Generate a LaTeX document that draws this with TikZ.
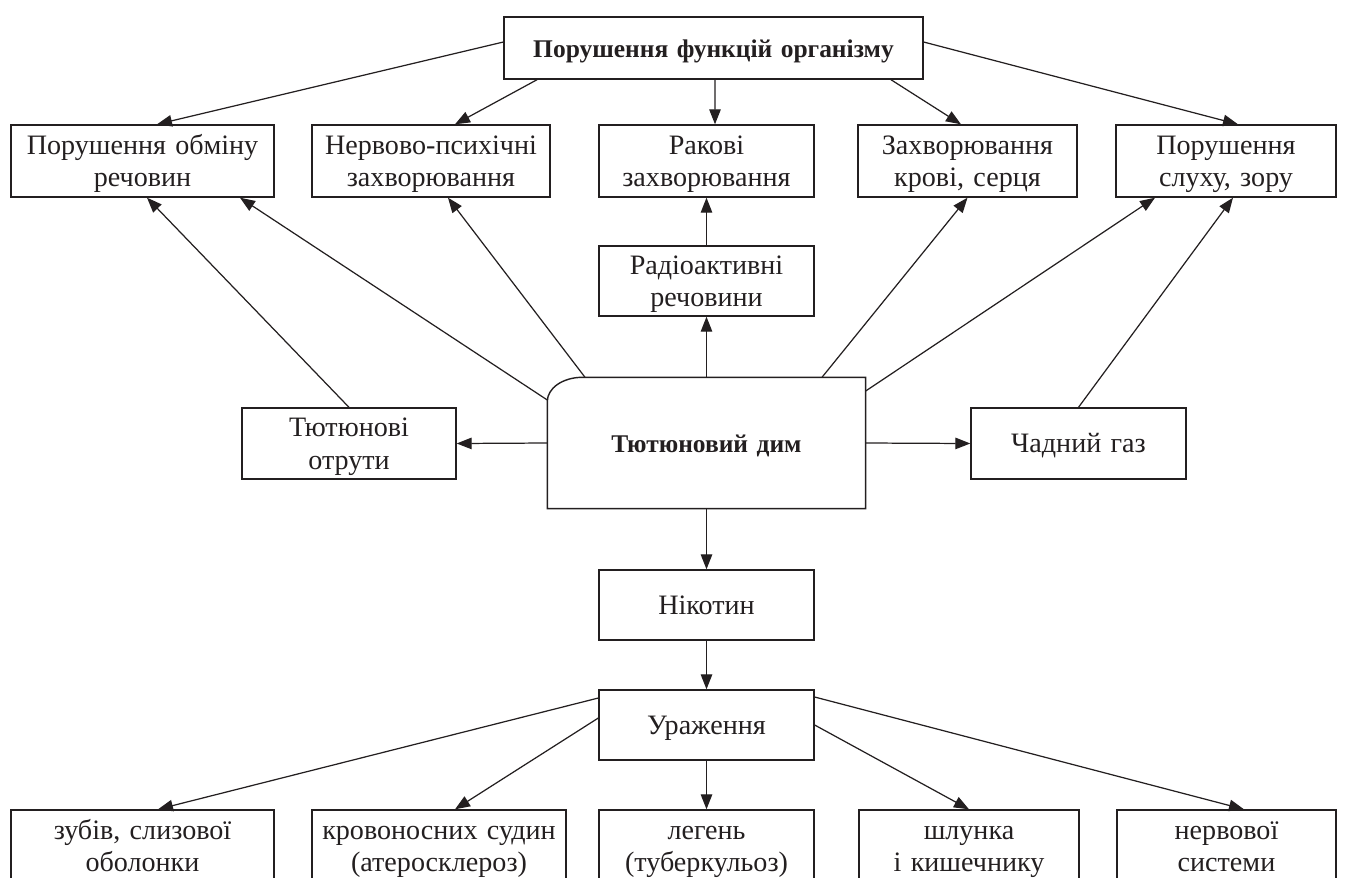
\documentclass[tikz,border=0pt]{standalone}
\usepackage{fontspec}
\setmainfont{Liberation Serif}
\usepackage{tikz}
\usetikzlibrary{arrows.meta}
\definecolor{ink}{HTML}{231F20}
\newcommand{\boxstrut}{\rule[-3.85pt]{0pt}{18.5pt}}
\tikzstyle{edge}=[draw=ink, line width=0.7pt, -{Triangle[length=3mm, width=2.3mm]}]
\tikzstyle{box}=[rectangle, draw=ink, line width=0.8pt, align=center, inner sep=0pt, text=ink, font=\fontsize{16}{18.5}\selectfont, minimum height=1.42cm, execute at begin node=\boxstrut, execute at end node=\boxstrut]
\tikzstyle{bigbox}=[box, font=\fontsize{14.5}{17}\selectfont\bfseries]

\begin{document}
\begin{tikzpicture}[x=0.02cm, y=-0.02cm]
      \useasboundingbox (0,0) rectangle (1347,877);
      \clip (0,0) rectangle (1347,877);
      % top level
      \node(top) [bigbox, text width=8.38cm, minimum height=1.24cm] at (713.5, 48){Порушення функцій організму};
      \node(r1) [box, text width=5.26cm, minimum height=1.44cm] at (142.5, 161){Порушення обміну\\речовин};
      \node(r2) [box, text width=4.76cm, minimum height=1.44cm] at (431, 161){Нервово-психічні\\захворювання};
      \node(r3) [box, text width=4.30cm, minimum height=1.44cm] at (706.5, 161){Ракові\\захворювання};
      \node(r4) [box, text width=4.38cm, minimum height=1.44cm] at (967.5, 161){Захворювання\\крові, серця};
      \node(r5) [box, text width=4.40cm, minimum height=1.44cm] at (1226, 161){Порушення\\слуху, зору};
      % middle
      \node(rad) [box, text width=4.30cm, minimum height=1.40cm] at (706.5, 281){Радіоактивні\\речовини};
      \node(smoke) [bigbox, draw=none, text width=6.34cm, minimum height=2.60cm] at (706.5, 443){Тютюновий дим};
      \draw[draw=ink, line width=0.8pt] (smoke.south west) -- ([yshift=-0.48cm]smoke.north west)
            .. controls ([yshift=-0.215cm]smoke.north west) and ([xshift=0.314cm]smoke.north west) .. ([xshift=0.7cm]smoke.north west)
            -- (smoke.north east) -- (smoke.south east) -- cycle;
      \node(tox) [box, text width=4.28cm] at (349, 443.5){Тютюнові\\отрути};
      \node(co) [box, text width=4.30cm] at (1078.5, 443.5){Чадний газ};
      \node(nic) [box, text width=4.30cm, minimum height=1.40cm] at (706.5, 605){Нікотин};
      \node(ur) [box, text width=4.30cm, minimum height=1.40cm] at (706.5, 725){Ураження};
      % bottom level
      \node(b1) [box, text width=5.26cm, minimum height=1.44cm] at (142.5, 846){зубів, слизової\\оболонки};
      \node(b2) [box, text width=5.08cm, minimum height=1.44cm] at (439, 846){кровоносних судин\\(атеросклероз)};
      \node(b3) [box, text width=4.30cm, minimum height=1.44cm] at (706.5, 846){легень\\(туберкульоз)};
      \node(b4) [box, text width=4.40cm, minimum height=1.44cm] at (969, 846){шлунка\\і кишечнику};
      \node(b5) [box, text width=4.38cm, minimum height=1.44cm] at (1226.5, 846){нервової\\системи};
      % from the top box
      \draw[edge] ([yshift=0.12cm]top.west) to ([xshift=0.29cm]r1.north);
      \draw[edge] ([xshift=-3.53cm]top.south) to ([xshift=0.48cm]r2.north);
      \draw[edge] ([xshift=0.03cm]top.south) to ([xshift=0.17cm]r3.north);
      \draw[edge] ([xshift=3.55cm]top.south) to ([xshift=-0.13cm]r4.north);
      \draw[edge] ([yshift=0.12cm]top.east) to ([xshift=0.24cm]r5.north);
      % from the smoke
      \draw[edge] ([yshift=0.86cm]smoke.west) to ([xshift=1.95cm]r1.south);
      \draw[edge] ([xshift=-2.43cm]smoke.north) to ([xshift=0.34cm]r2.south);
      \draw[edge] (smoke.north) to (rad.south);
      \draw[edge] (rad.north) to (r3.south);
      \draw[edge] ([xshift=2.31cm]smoke.north) to (r4.south);
      \draw[edge] ([yshift=1.04cm]smoke.east) to ([xshift=-1.42cm]r5.south);
      \draw[edge] (tox.north) to ([xshift=0.09cm]r1.south);
      \draw[edge] (co.north) to ([xshift=0.14cm]r5.south);
      \draw[edge] (smoke.west) to (tox.east);
      \draw[edge] (smoke.east) to (co.west);
      \draw[edge] (smoke.south) to (nic.north);
      \draw[edge] (nic.south) to (ur.north);
      % from the lesions box
      \draw[edge] ([yshift=0.54cm]ur.west) to ([xshift=0.31cm]b1.north);
      \draw[edge] ([yshift=0.14cm]ur.west) to ([xshift=0.32cm]b2.north);
      \draw[edge] (ur.south) to (b3.north);
      \draw[edge] (ur.east) to (b4.north);
      \draw[edge] ([yshift=0.56cm]ur.east) to ([xshift=0.35cm]b5.north);
    \end{tikzpicture}
\end{document}
